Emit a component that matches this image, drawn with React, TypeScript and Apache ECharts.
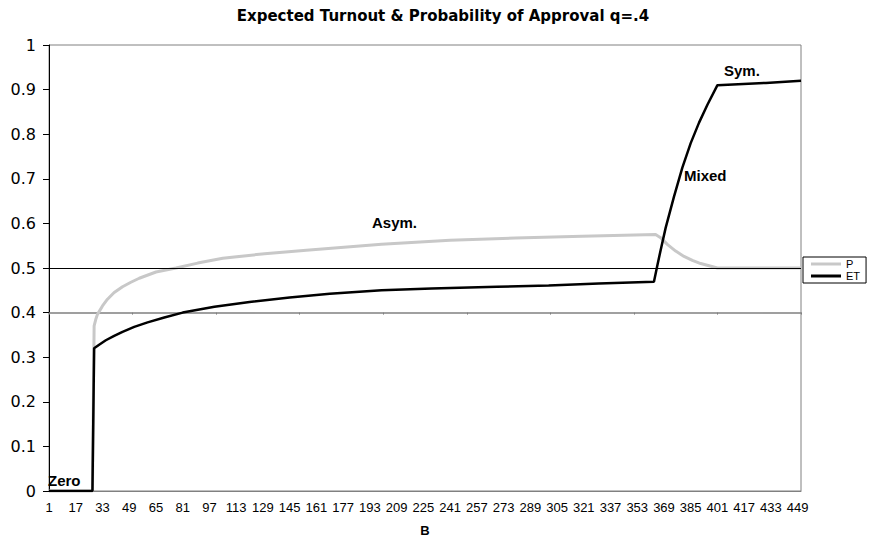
import React, { useEffect, useRef } from "react";
import * as echarts from "echarts";

const TITLE = "Expected Turnout & Probability of Approval q=.4";
const X_NAME = "B";
const X_MIN = 1;
const X_MAX = 451;

// P: probability of approval (B, value)
const pB = [1, 27, 28, 29, 30, 33, 36, 40, 45, 50, 55, 65, 77, 90, 105, 130, 155, 200, 241, 280, 320, 364, 367, 371, 376, 381, 386, 391, 396, 401, 451];
const pV = [0, 0, 0.37, 0.385, 0.396, 0.415, 0.43, 0.445, 0.458, 0.468, 0.477, 0.491, 0.5, 0.511, 0.522, 0.532, 0.54, 0.553, 0.562, 0.567, 0.571, 0.575, 0.568, 0.553, 0.538, 0.526, 0.517, 0.51, 0.505, 0.5, 0.5];

// ET: expected turnout (B, value)
const etB = [1, 27, 28, 31, 35, 40, 45, 52, 60, 70, 81, 100, 121, 145, 169, 200, 230, 269, 300, 330, 363, 365, 367, 370, 375, 380, 385, 390, 395, 401, 430, 451];
const etV = [0, 0, 0.32, 0.328, 0.338, 0.348, 0.357, 0.368, 0.378, 0.389, 0.4, 0.413, 0.424, 0.434, 0.442, 0.45, 0.454, 0.458, 0.461, 0.465, 0.469, 0.505, 0.54, 0.59, 0.66, 0.725, 0.78, 0.826, 0.866, 0.91, 0.915, 0.92];

const Q_LINE = 0.4;
const HALF_LINE = 0.5;

const annotations = [
  { text: "Zero", x: 48, y: 481 },
  { text: "Asym.", x: 372, y: 223 },
  { text: "Mixed", x: 684, y: 176 },
  { text: "Sym.", x: 724, y: 71 },
];

const FONT = "'Liberation Sans', Arial, sans-serif";
const WIDE = "'DejaVu Sans', 'Liberation Sans', sans-serif";

export default function App() {
  const ref = useRef<HTMLDivElement>(null);
  useEffect(() => {
    if (!ref.current) return;
    const chart = echarts.init(ref.current, undefined, { renderer: "svg" });
    const gridTop = 45;
    const gridBottom = 61;
    const plotH = 552 - gridTop - gridBottom;
    chart.setOption({
      animation: false,
      backgroundColor: "#ffffff",
      textStyle: { fontFamily: FONT },
      title: {
        text: TITLE,
        left: "center",
        top: 3,
        textStyle: { fontFamily: WIDE, fontSize: 15, fontWeight: "bold", color: "#000" },
      },
      legend: {
        data: ["P", "ET"],
        orient: "vertical",
        left: 803,
        top: 257,
        icon: "rect",
        itemWidth: 30,
        itemHeight: 3,
        itemGap: 0,
        padding: [1, 6, 1, 8],
        borderColor: "#000",
        borderWidth: 1,
        textStyle: { fontFamily: FONT, fontSize: 11, lineHeight: 12, color: "#000" },
      },
      grid: {
        left: 49,
        right: 85,
        top: gridTop,
        bottom: gridBottom,
        show: true,
        borderColor: "#808080",
        borderWidth: 1,
        containLabel: false,
      },
      xAxis: [
        {
          type: "value",
          min: X_MIN,
          max: X_MAX,
          interval: 16,
          name: X_NAME,
          nameLocation: "middle",
          nameGap: 33,
          nameTextStyle: { fontFamily: FONT, fontSize: 13, fontWeight: "bold", color: "#000" },
          axisLine: { show: true, onZero: false, lineStyle: { color: "#808080", width: 1 } },
          axisTick: { show: false },
          splitLine: { show: false },
          axisLabel: { fontSize: 13, color: "#000", margin: 10, showMaxLabel: false, fontFamily: FONT },
        },
        {
          type: "value",
          min: X_MIN,
          max: X_MAX,
          interval: 50,
          position: "bottom",
          offset: -plotH * Q_LINE,
          axisLine: { show: true, onZero: false, lineStyle: { color: "#808080", width: 1.5 } },
          axisTick: { show: true, length: 2, lineStyle: { color: "#808080" } },
          axisLabel: { show: false },
          splitLine: { show: false },
        },
      ],
      yAxis: {
        type: "value",
        min: 0,
        max: 1,
        interval: 0.1,
        axisLine: { show: true, lineStyle: { color: "#000", width: 1 } },
        axisTick: { show: true, length: 6, lineStyle: { color: "#000" } },
        splitLine: { show: false },
        axisLabel: { fontSize: 16, color: "#000", margin: 13, fontFamily: WIDE },
      },
      series: [
        {
          name: "P",
          type: "line",
          xAxisIndex: 0,
          data: pB.map((b, i) => [b, pV[i]]),
          symbol: "none",
          lineStyle: { color: "#c8c8c8", width: 3 },
          itemStyle: { color: "#c8c8c8" },
          markLine: {
            silent: true,
            symbol: "none",
            label: { show: false },
            lineStyle: { color: "#000", width: 1, type: "solid" },
            data: [{ yAxis: HALF_LINE }],
          },
          z: 2,
        },
        {
          name: "ET",
          type: "line",
          xAxisIndex: 0,
          data: etB.map((b, i) => [b, etV[i]]),
          symbol: "none",
          lineStyle: { color: "#000", width: 2.5 },
          itemStyle: { color: "#000" },
          z: 3,
        },
      ],
      graphic: annotations.map((a) => ({
        type: "text",
        left: a.x,
        top: a.y - 8,
        z: 10,
        style: {
          text: a.text,
          fontFamily: FONT,
          fontSize: 15,
          fontWeight: "bold",
          fill: "#000",
        },
      })),
    });
    return () => chart.dispose();
  }, []);
  return (
    <div
      ref={ref}
      style={{ position: "fixed", left: 0, top: 0, width: 886, height: 552 }}
    />
  );
}
